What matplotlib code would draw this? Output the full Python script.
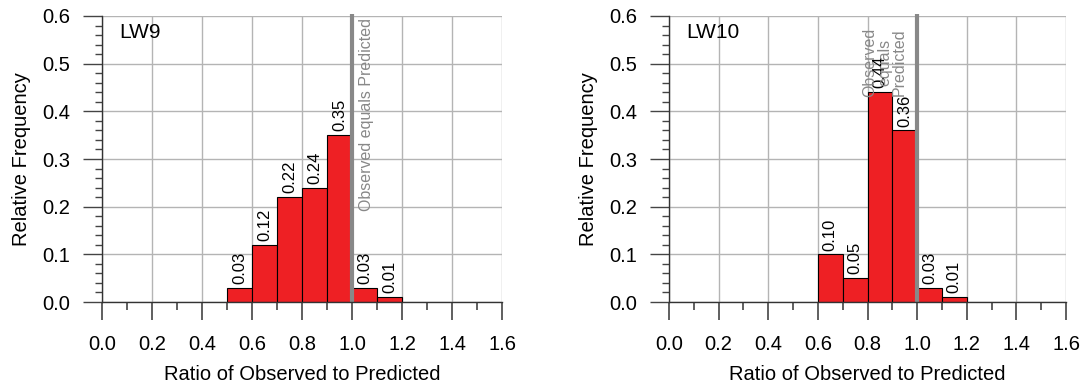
import numpy as np
import matplotlib
matplotlib.use("Agg")
import matplotlib.pyplot as plt
from matplotlib.ticker import MultipleLocator

plt.rcParams['font.family'] = ['Liberation Sans', 'DejaVu Sans']

# histogram bins (left edges) and relative frequencies per longwall
bin_left = [0.5, 0.6, 0.7, 0.8, 0.9, 1.0, 1.1]
lw9_freq = [0.03, 0.12, 0.22, 0.24, 0.35, 0.03, 0.01]
lw10_left = [0.6, 0.7, 0.8, 0.9, 1.0, 1.1]
lw10_freq = [0.10, 0.05, 0.44, 0.36, 0.03, 0.01]
bin_w = 0.1

fig = plt.figure(figsize=(10.84, 3.9), dpi=100)
ax1 = fig.add_axes([0.0941, 0.2256, 0.369, 0.7334])
ax2 = fig.add_axes([0.6172, 0.2256, 0.3662, 0.7334])


def panel(ax, left, freq, name, note, note_xy):
    ax.bar(left, freq, width=bin_w, align='edge', color='#ee2024',
           edgecolor='black', linewidth=0.8, zorder=3)
    for x, f in zip(left, freq):
        ax.text(x + bin_w / 2, f + 0.008, f"{f:.2f}", rotation=90,
                ha='center', va='bottom', fontsize=12, zorder=5)
    # one-to-one reference line
    ax.plot([1.0, 1.0], [0, 0.605], color='#888888', lw=3, zorder=4,
            clip_on=False, solid_capstyle='butt')
    ax.text(note_xy[0], note_xy[1], note, rotation=90, color='#888888',
            ha='center', va='bottom', fontsize=11.5, multialignment='center',
            linespacing=1.0, zorder=5)
    ax.text(0.07, 0.565, name, ha='left', va='center', fontsize=15)

    ax.set_xlim(0, 1.6)
    ax.set_ylim(0, 0.6)
    ax.xaxis.set_major_locator(MultipleLocator(0.2))
    ax.xaxis.set_minor_locator(MultipleLocator(0.1))
    ax.yaxis.set_major_locator(MultipleLocator(0.1))
    ax.yaxis.set_minor_locator(MultipleLocator(0.02))
    ax.xaxis.set_major_formatter(lambda v, p: f"{v:.1f}")
    ax.yaxis.set_major_formatter(lambda v, p: f"{v:.1f}")
    ax.grid(True, which='major', color='#b4b4b4', lw=1.0, zorder=0)
    for s in ('top', 'right'):
        ax.spines[s].set_visible(False)
    for s in ('left', 'bottom'):
        ax.spines[s].set_color('#333333')
        ax.spines[s].set_linewidth(1.0)
        ax.spines[s].set_zorder(4)
    ax.tick_params(axis='x', which='major', length=13, width=1.2,
                   color='#444444', pad=11, labelsize=14.5)
    ax.tick_params(axis='x', which='minor', length=6, width=1.2,
                   color='#444444')
    ax.tick_params(axis='y', which='major', length=14, width=1.0,
                   color='#444444', pad=9, labelsize=14.5)
    ax.tick_params(axis='y', which='minor', length=5, width=1.0,
                   color='#444444')
    ax.set_xlabel("Ratio of Observed to Predicted", fontsize=14.5, labelpad=8)
    ax.set_ylabel("Relative Frequency", fontsize=14.5, labelpad=8)


panel(ax1, bin_left, lw9_freq, "LW9", "Observed equals Predicted",
      (1.058, 0.19))
panel(ax2, lw10_left, lw10_freq, "LW10", "Observed\nequals\nPredicted",
      (0.868, 0.43))

fig.savefig("out.png", dpi=100)
